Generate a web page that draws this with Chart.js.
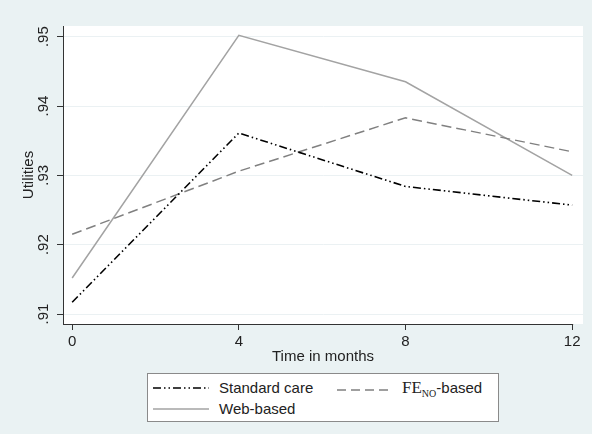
<!DOCTYPE html>
<html>
<head>
<meta charset="utf-8">
<script src="https://cdn.jsdelivr.net/npm/chart.js@4.4.0/dist/chart.umd.min.js"></script>
<style>
  html, body { margin: 0; padding: 0; background: #eaf2f3; }
  #wrap { position: relative; width: 592px; height: 434px; }
  #legend {
    position: absolute; left: 147px; top: 373px; width: 350px; height: 47px;
    background: #fff; border: 1px solid #8a8a8a;
    font-family: "Liberation Sans", Arial, sans-serif; font-size: 15px; color: #222;
  }
  .item { position: absolute; display: flex; align-items: center; white-space: nowrap; }
  .item svg { display: block; }
  .lab { margin-left: 10px; }
  .fe { font-family: "Liberation Serif", "Times New Roman", serif; font-size: 17px; }
  .fe sub { font-size: 10px; vertical-align: -4px; }
</style>
</head>
<body>
<div id="wrap">
  <canvas id="c" width="592" height="434"></canvas>
  <div id="legend">
    <div class="item" style="left:5px; top:5px;">
      <svg width="56" height="16"><line x1="0" y1="8" x2="56" y2="8" stroke="#000" stroke-width="1.6" stroke-dasharray="8 3 1.5 3 1.5 3"/></svg>
      <span class="lab">Standard care</span>
    </div>
    <div class="item" style="left:189px; top:4px;">
      <svg width="52" height="16"><line x1="0" y1="9" x2="52" y2="9" stroke="#808080" stroke-width="1.5" stroke-dasharray="9 5"/></svg>
      <span class="lab" style="margin-left:13px"><span class="fe">FE<sub>NO</sub></span>-based</span>
    </div>
    <div class="item" style="left:5px; top:26px;">
      <svg width="56" height="16"><line x1="0" y1="8" x2="56" y2="8" stroke="#a3a3a3" stroke-width="1.5"/></svg>
      <span class="lab">Web-based</span>
    </div>
  </div>
</div>
<script>
const months = [0, 4, 8, 12];
const standardCare = [0.9117, 0.9361, 0.9284, 0.9257];
const feNoBased = [0.9215, 0.9306, 0.9383, 0.9334];
const webBased = [0.9152, 0.9502, 0.9435, 0.9300];
const xTicks = [0, 4, 8, 12];
const yTicks = [0.91, 0.92, 0.93, 0.94, 0.95];

const FONT = '"Liberation Sans", Arial, sans-serif';
const toPts = arr => arr.map((v, i) => ({ x: months[i], y: v }));

const bgPlugin = {
  id: 'bg',
  beforeDraw(chart) {
    const { ctx, chartArea: a } = chart;
    ctx.save();
    ctx.fillStyle = '#eaf2f3';
    ctx.fillRect(0, 0, chart.width, chart.height);
    ctx.fillStyle = '#ffffff';
    ctx.fillRect(a.left, a.top, a.right - a.left, a.bottom - a.top);
    ctx.restore();
  },
  afterDraw(chart) {
    const { ctx, chartArea: a, scales } = chart;
    const xEnd = scales.x.getPixelForValue(xTicks[xTicks.length - 1]);
    ctx.save();
    ctx.strokeStyle = '#333';
    ctx.lineWidth = 1;
    ctx.beginPath();
    ctx.moveTo(a.left, a.bottom + 0.5);
    ctx.lineTo(xEnd + 1, a.bottom + 0.5);
    ctx.stroke();
    ctx.restore();
  }
};

new Chart(document.getElementById('c'), {
  type: 'line',
  data: {
    datasets: [
      { label: 'Standard care', data: toPts(standardCare), borderColor: '#000', borderWidth: 1.6, borderDash: [8, 3, 1.5, 3, 1.5, 3] },
      { label: 'FE_NO-based', data: toPts(feNoBased), borderColor: '#808080', borderWidth: 1.5, borderDash: [10, 5] },
      { label: 'Web-based', data: toPts(webBased), borderColor: '#a3a3a3', borderWidth: 1.5 }
    ]
  },
  options: {
    responsive: false,
    animation: false,
    devicePixelRatio: 1,
    layout: { padding: { top: 26, right: 9, left: 0, bottom: 0 } },
    elements: { point: { radius: 0 }, line: { tension: 0, fill: false } },
    plugins: { legend: { display: false }, tooltip: { enabled: false } },
    scales: {
      x: {
        type: 'linear', min: -0.22, max: 12.26,
        afterBuildTicks: s => { s.ticks = xTicks.map(v => ({ value: v })); },
        afterFit: s => { s.height = 110; },
        border: { display: false },
        grid: { display: true, drawOnChartArea: false, tickLength: 6, tickColor: '#333' },
        ticks: { padding: 3, color: '#222', font: { family: FONT, size: 15 }, maxRotation: 0, minRotation: 0 },
        title: { display: true, text: 'Time in months', color: '#222', font: { family: FONT, size: 15 }, padding: { top: 0, bottom: 68 } }
      },
      y: {
        min: 0.90856, max: 0.95154,
        afterBuildTicks: s => { s.ticks = yTicks.map(v => ({ value: v })); },
        afterFit: s => { s.width = 63; },
        border: { display: true, color: '#333', width: 1 },
        grid: { color: '#ebf1f3', lineWidth: 1, tickLength: 6, tickColor: '#333' },
        ticks: {
          padding: 3, color: '#222', font: { family: FONT, size: 15 },
          minRotation: 90, maxRotation: 90, crossAlign: 'center',
          callback: v => v.toFixed(2).replace(/^0/, '')
        },
        title: { display: true, text: 'Utilities', color: '#222', font: { family: FONT, size: 15 }, padding: { top: 20, bottom: 0 } }
      }
    }
  },
  plugins: [bgPlugin]
});
</script>
</body>
</html>
